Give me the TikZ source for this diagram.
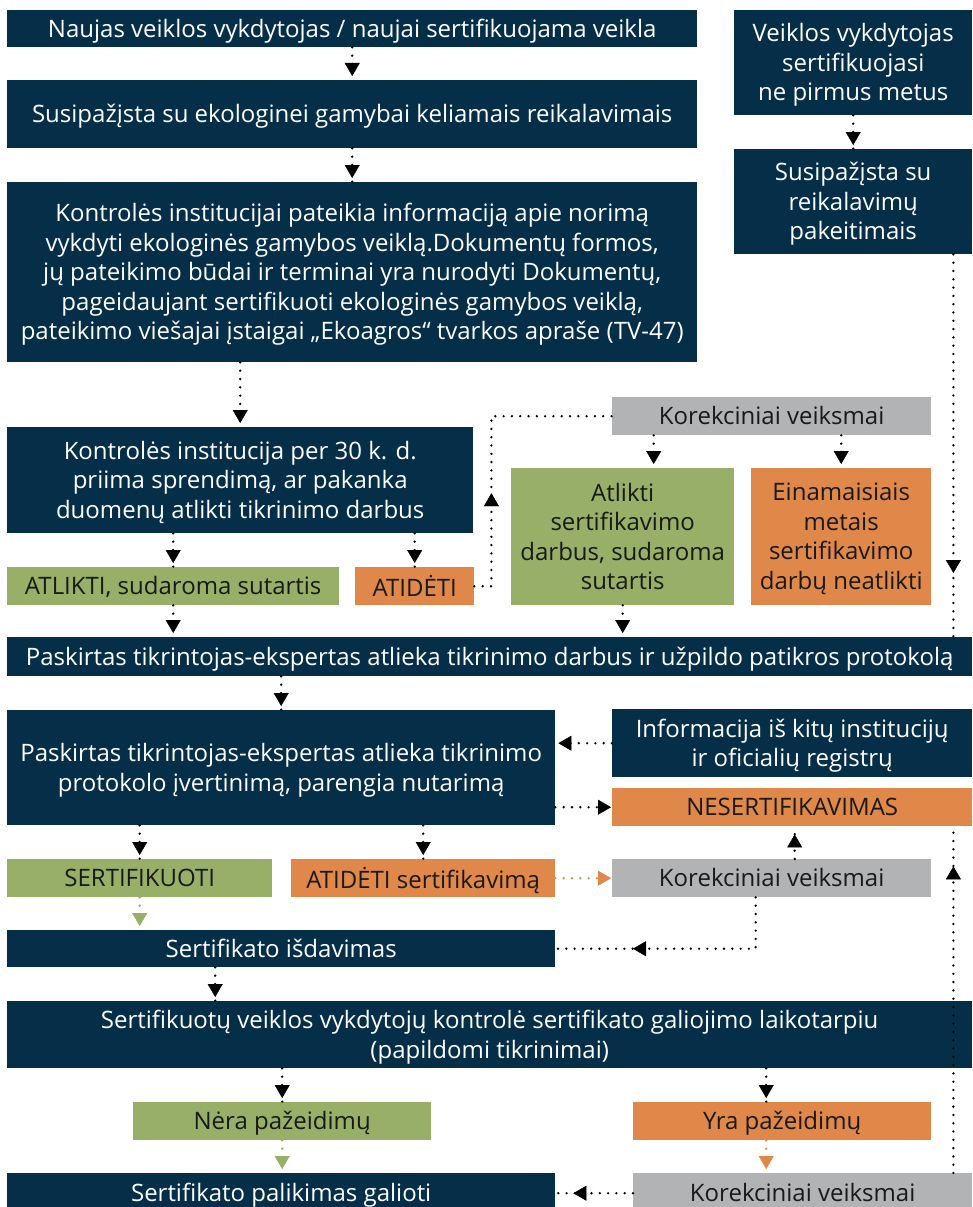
\documentclass[tikz,border=0pt]{standalone}
\usepackage{fontspec}
\setmainfont{Open Sans}
\usetikzlibrary{arrows.meta,decorations.markings}
\definecolor{navy}{HTML}{052E48}
\definecolor{leaf}{HTML}{97AF66}
\definecolor{clay}{HTML}{E0874A}
\definecolor{stone}{HTML}{B1B3B4}
\tikzset{
  box/.style={anchor=north west, inner sep=0pt, align=center, text depth=1pt,
    execute at begin node={\rule{0pt}{18pt}},
    font=\fontsize{24}{29.5}\selectfont},
  dark/.style={box, fill=navy, text=white},
  ok/.style={box, fill=leaf, text=black!90},
  warn/.style={box, fill=clay, text=black!90},
  fix/.style={box, fill=stone, text=black!90},
  dots/.style={line width=2.6pt, line cap=round, dash pattern=on 0pt off 8.3pt},
  flow/.style={dots, postaction={decorate}, decoration={markings,
    mark=at position #1 with {\arrow{Triangle[length=13pt,width=15pt,line width=0.4pt]}}}},
  flow/.default=-4pt
}
\begin{document}
\begin{tikzpicture}[x=1pt,y=-1pt]
    \useasboundingbox (0,0) rectangle (973,1207);
    % left column
    \node[dark, minimum width=690pt, minimum height=37pt] (n1) at (7,10) {Naujas veiklos vykdytojas / naujai sertifikuojama veikla};
    \node[dark, minimum width=690pt, minimum height=68pt] (n2) at (7,80) {Susipažįsta su ekologinei gamybai keliamais reikalavimais};
    \node[dark, minimum width=690pt, minimum height=180pt] (n3) at (7,182) {Kontrolės institucijai pateikia informaciją apie norimą\\vykdyti ekologinės gamybos veiklą.Dokumentų formos,\\jų pateikimo būdai ir terminai yra nurodyti Dokumentų,\\pageidaujant sertifikuoti ekologinės gamybos veiklą,\\pateikimo viešajai įstaigai „Ekoagros“ tvarkos apraše (TV-47)};
    \node[dark, minimum width=466pt, minimum height=106pt] (n4) at (7,427) {Kontrolės institucija per 30 k. d.\\priima sprendimą, ar pakanka\\duomenų atlikti tikrinimo darbus};
    \node[ok, minimum width=332pt, minimum height=38pt] (g1) at (7,567) {ATLIKTI, sudaroma sutartis};
    \node[warn, minimum width=119pt, minimum height=38pt] (o1) at (355,567) {ATIDĖTI};
    % right column
    \node[dark, minimum width=238pt, minimum height=105pt] (r1) at (734,10) {Veiklos vykdytojas\\sertifikuojasi\\ne pirmus metus};
    \node[dark, minimum width=238pt, minimum height=105pt] (r2) at (734,149) {Susipažįsta su\\reikalavimų\\pakeitimais};
    \node[fix, minimum width=319pt, minimum height=38pt] (k1) at (612,397) {Korekciniai veiksmai};
    \node[ok, minimum width=223pt, minimum height=137pt] (g2) at (511,468) {Atlikti\\sertifikavimo\\darbus, sudaroma\\sutartis};
    \node[warn, minimum width=180pt, minimum height=137pt] (o2) at (751,468) {Einamaisiais\\metais\\sertifikavimo\\darbų neatlikti};
    % evaluation
    \node[dark, minimum width=965pt, minimum height=39pt] (n5) at (7,637) {Paskirtas tikrintojas-ekspertas atlieka tikrinimo darbus ir užpildo patikros protokolą};
    \node[dark, minimum width=548pt, minimum height=115pt] (n6) at (7,710) {Paskirtas tikrintojas-ekspertas atlieka tikrinimo\\protokolo įvertinimą, parengia nutarimą};
    \node[dark, minimum width=360pt, minimum height=68pt] (inf) at (612,709) {Informacija iš kitų institucijų\\ir oficialių registrų};
    \node[warn, minimum width=360pt, minimum height=38pt] (nes) at (612,788) {NESERTIFIKAVIMAS};
    \node[ok, minimum width=265pt, minimum height=38pt] (sert) at (7,859) {SERTIFIKUOTI};
    \node[warn, minimum width=264pt, minimum height=38pt] (atid) at (291,859) {ATIDĖTI sertifikavimą};
    \node[fix, minimum width=319pt, minimum height=38pt] (k2) at (612,859) {Korekciniai veiksmai};
    \node[dark, minimum width=548pt, minimum height=37pt] (isd) at (7,930) {Sertifikato išdavimas};
    % control
    \node[dark, minimum width=965pt, minimum height=67pt] (kon) at (7,1001) {Sertifikuotų veiklos vykdytojų kontrolė sertifikato galiojimo laikotarpiu\\(papildomi tikrinimai)};
    \node[ok, minimum width=298pt, minimum height=38pt] (nera) at (133,1102) {Nėra pažeidimų};
    \node[warn, minimum width=298pt, minimum height=38pt] (yra) at (633,1102) {Yra pažeidimų};
    \node[dark, minimum width=548pt, minimum height=40pt] (pal) at (7,1173) {Sertifikato palikimas galioti};
    \node[fix, minimum width=339pt, minimum height=40pt] (k3) at (633,1173) {Korekciniai veiksmai};
    % helper points
    \coordinate (r2x) at ([xshift=-19pt]r2.south east);
    \coordinate (k1x) at ([xshift=31pt]g2.north);
    \coordinate (k2x) at ([xshift=23pt]k2.north);
    \coordinate (k2y) at ([xshift=-16pt]k2.south);
    \coordinate (isdx) at ([xshift=-66pt]isd.south);
    \coordinate (yrax) at ([xshift=-16pt]yra.north);
    \coordinate (k3x) at ([xshift=-19pt]k3.north east);
    % connectors
    \draw[flow] (n1.south) -- (n2.north);
    \draw[flow] (n2.south) -- (n3.north);
    \draw[flow] (n4.north |- n3.south) -- (n4.north);
    \draw[flow] (r1.south) -- (r2.north);
    \draw[flow=-64pt] (r2x) -- (r2x |- n5.north);
    \draw[flow] (g1.north |- n4.south) -- (g1.north);
    \draw[flow] (o1.north |- n4.south) -- (o1.north);
    \draw[flow=110pt] (o1.east) -- ++(17,0) |- (k1.west);
    \draw[flow] (k1x |- k1.south) -- (k1x);
    \draw[flow] (o2.north |- k1.south) -- (o2.north);
    \draw[flow] (g2.south) -- (g2.south |- n5.north);
    \draw[flow] (g1.south) -- (g1.south |- n5.north);
    \draw[flow] (n6.north |- n5.south) -- (n6.north);
    \draw[flow=-3pt] (inf.west) -- (inf.west -| n6.east);
    \draw[flow=-1pt] (nes.west -| n6.east) -- (nes.west);
    \draw[flow] (sert.north |- n6.south) -- (sert.north);
    \draw[flow] (atid.north |- n6.south) -- (atid.north);
    \draw[flow=-1pt, clay] (atid.east) -- (k2.west);
    \draw[flow=-8pt] (k2x) -- (k2x |- nes.south);
    \draw[flow=174pt] (k2y) |- (isd.east);
    \draw[flow, leaf] (sert.south) -- (sert.south |- isd.north);
    \draw[flow] (isdx) -- (isdx |- kon.north);
    \draw[flow] (nera.north |- kon.south) -- (nera.north);
    \draw[flow] (yrax |- kon.south) -- (yrax);
    \draw[flow, leaf] (nera.south) -- (nera.south |- pal.north);
    \draw[flow, clay] (yrax |- yra.south) -- (yrax |- k3.north);
    \draw[flow=-18pt] (k3.west) -- (k3.west -| pal.east);
    \draw[flow=-40pt] (k3x) -- (k3x |- nes.south);
\end{tikzpicture}
\end{document}
